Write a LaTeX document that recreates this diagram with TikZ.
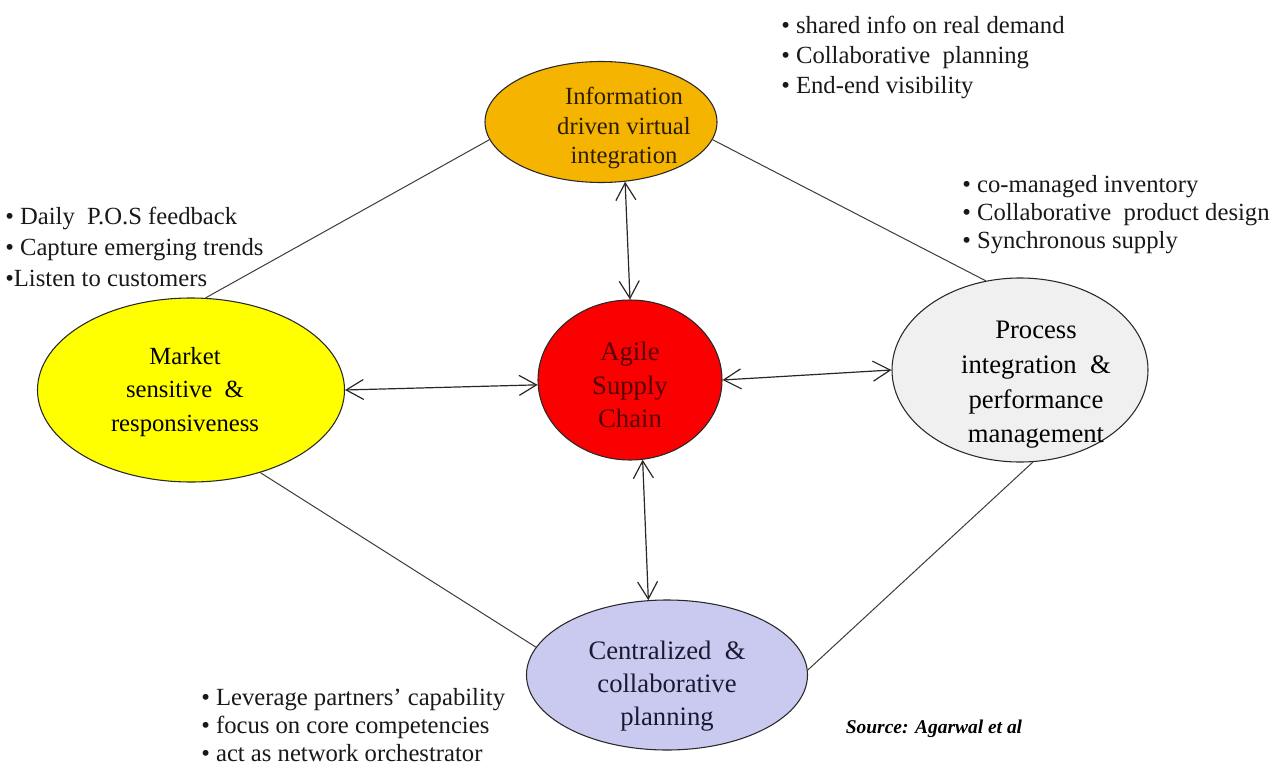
\documentclass[tikz,border=0pt]{standalone}
\usepackage{fontspec}
\setmainfont{Liberation Serif}
\usetikzlibrary{shapes.geometric,arrows.meta}
\definecolor{infofill}{RGB}{245,180,0}
\definecolor{agilefill}{RGB}{250,0,0}
\definecolor{marketfill}{RGB}{255,255,0}
\definecolor{procfill}{RGB}{240,240,240}
\definecolor{centfill}{RGB}{202,202,240}
\definecolor{edgecol}{RGB}{40,40,40}
\definecolor{linecol}{RGB}{60,60,60}
\tikzset{
  blob/.style={ellipse, draw=edgecol, line width=0.8pt, inner sep=0pt},
  lbl/.style={align=center, inner sep=0pt, text=black},
  bul/.style={align=left, anchor=west, inner sep=0pt, text=black!90},
  plainline/.style={draw=linecol, line width=0.75pt},
  twoway/.style={draw=edgecol, line width=0.9pt, {Straight Barb[length=13pt,width=15pt]}-{Straight Barb[length=13pt,width=15pt]}}
}
\begin{document}
\begin{tikzpicture}[x=0.75pt,y=-0.75pt]
\useasboundingbox[fill=white] (0,0) rectangle (1281,767);

% ellipses
\node[blob, fill=infofill, minimum width=232*0.75pt, minimum height=121*0.75pt] (info) at (601,122) {};
\node[blob, fill=agilefill, minimum width=184*0.75pt, minimum height=160*0.75pt] (agile) at (630,380) {};
\node[blob, fill=marketfill, minimum width=307*0.75pt, minimum height=184*0.75pt] (market) at (191,390) {};
\node[blob, fill=procfill, minimum width=256*0.75pt, minimum height=184*0.75pt] (proc) at (1020,370) {};
\node[blob, fill=centfill, minimum width=281*0.75pt, minimum height=150*0.75pt] (cent) at (667,675) {};

% ellipse texts
\node[lbl, text={rgb,255:red,45;green,30;blue,0}, font=\fontsize{18.5}{22}\selectfont] (infot) at (624,128) {Information\\driven virtual\\integration};
\node[lbl, text={rgb,255:red,85;green,0;blue,0}, font=\fontsize{20}{25}\selectfont] (agilet) at (630,385) {Agile\\Supply\\Chain};
\node[lbl, font=\fontsize{18.5}{25}\selectfont] (markett) at (185,392) {Market\\sensitive\ \ \&\\responsiveness};
\node[lbl, font=\fontsize{20}{26}\selectfont] (proct) at (1036,385) {Process\\integration\ \ \&\\performance\\management};
\node[lbl, text={rgb,255:red,25;green,25;blue,50}, font=\fontsize{20}{25}\selectfont] (centt) at (667,686) {Centralized\ \ \&\\collaborative\\planning};

% bullet lists
\node[bul, font=\fontsize{18.5}{22.5}\selectfont] (b1) at (781,57) {• shared info on real demand\\• Collaborative\ \ planning\\• End-end visibility};
\node[bul, font=\fontsize{18.5}{21}\selectfont] (b2) at (962,215) {• co-managed inventory\\• Collaborative\ \ product design\\• Synchronous supply};
\node[bul, font=\fontsize{18.5}{23}\selectfont] (b3) at (5,247) {• Daily\ \ P.O.S feedback\\• Capture emerging trends\\•Listen to customers};
\node[bul, font=\fontsize{18.5}{21}\selectfont] (b4) at (201,725) {• Leverage partners’ capability\\• focus on core competencies\\• act as network orchestrator};

\node[inner sep=0pt, font=\fontsize{14.6}{16}\selectfont\bfseries\itshape] (src) at (934,729) {Source: Agarwal et al};

% plain connectors
\draw[plainline] (market.81) -- (info.189);
\draw[plainline] (info.-9) -- (proc.111);
\draw[plainline] (market.-50) -- (cent.168);
\draw[plainline] (cent.2) -- (proc.-82);

% two-way arrows
\draw[twoway] (info.-68) -- (agile.90);
\draw[twoway] (market.0) -- (agile.183);
\draw[twoway] (agile.0) -- (proc.180);
\draw[twoway] (agile.-81) -- (cent.104);
\end{tikzpicture}
\end{document}
